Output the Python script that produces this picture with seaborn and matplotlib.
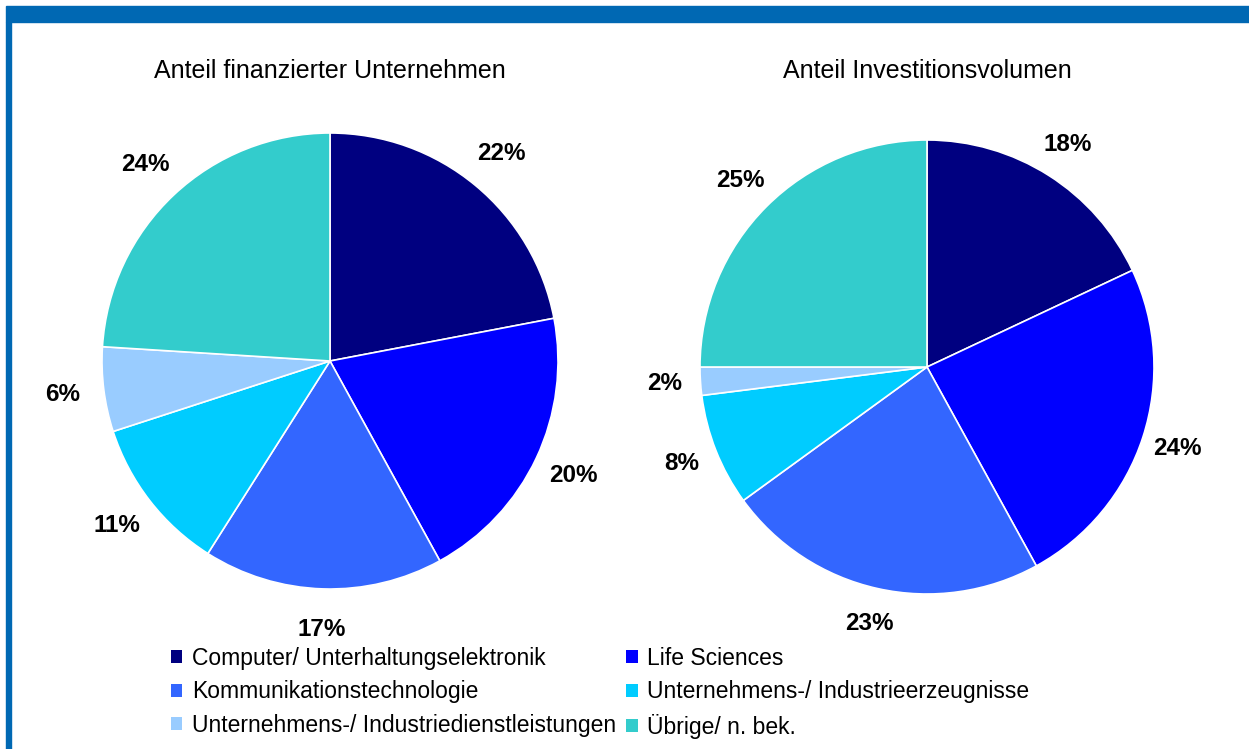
import matplotlib.pyplot as plt
import seaborn as sns
from matplotlib.patches import Patch, Rectangle

sns.set_style("white")
plt.rcParams['font.family'] = ['Liberation Sans', 'DejaVu Sans']
plt.rcParams['text.color'] = 'black'

# Data
sectors = ["Computer/ Unterhaltungselektronik", "Life Sciences",
           "Kommunikationstechnologie", "Unternehmens-/ Industrieerzeugnisse",
           "Unternehmens-/ Industriedienstleistungen", "Übrige/ n. bek."]
anteil_unternehmen = [22, 20, 17, 11, 6, 24]
anteil_volumen = [18, 24, 23, 8, 2, 25]
titles = ["Anteil finanzierter Unternehmen", "Anteil Investitionsvolumen"]

colors = ["#000080", "#0000FF", "#3366FF", "#00CCFF", "#99CCFF", "#33CCCC"]

W, H = 1249, 749
fig = plt.figure(figsize=(W / 100, H / 100), dpi=100)

# frame: blue bar on top and on the left
fig.patches.append(Rectangle((6 / W, 1 - 22 / H), 1 - 6 / W, 16 / H,
                             transform=fig.transFigure, color="#0068B3", zorder=0))
fig.patches.append(Rectangle((6 / W, 0), 5 / W, 1 - 22 / H,
                             transform=fig.transFigure, color="#0068B3", zorder=0))


def pie_axes(cx, cy, r, half=300):
    ax = fig.add_axes([(cx - half) / W, 1 - (cy + half) / H, 2 * half / W, 2 * half / H])
    ax.set_aspect("equal")
    ax.axis("off")
    return ax


setups = [(330, 361, 228, anteil_unternehmen, 1.18), (927, 367, 227, anteil_volumen, 1.16)]
for (cx, cy, r, vals, pd_), title in zip(setups, titles):
    ax = pie_axes(cx, cy, r)
    ax.pie(vals, colors=colors, startangle=90, counterclock=False,
           autopct="%1.0f%%", pctdistance=pd_, radius=1,
           wedgeprops=dict(edgecolor="white", linewidth=1.2),
           textprops=dict(fontsize=17.5, fontweight="bold", color="black"))
    ax.set_xlim(-300 / r, 300 / r)
    ax.set_ylim(-300 / r, 300 / r)
    fig.text(cx / W, 1 - 71 / H, title, ha="center", va="center", fontsize=18)

# legend, filled column-wise to match row order of the picture
order = [0, 2, 4, 1, 3, 5]
handles = [Patch(facecolor=colors[i], edgecolor="none", label=sectors[i]) for i in order]
fig.legend(handles=handles, ncol=2, loc="upper left",
           bbox_to_anchor=(171 / W, 1 - 647 / H), frameon=False,
           fontsize=16.5, handlelength=0.5, handleheight=0.5,
           handletextpad=0.4, columnspacing=0.45, labelspacing=0.45,
           borderpad=0, borderaxespad=0)

fig.savefig("out.png", dpi=100)
